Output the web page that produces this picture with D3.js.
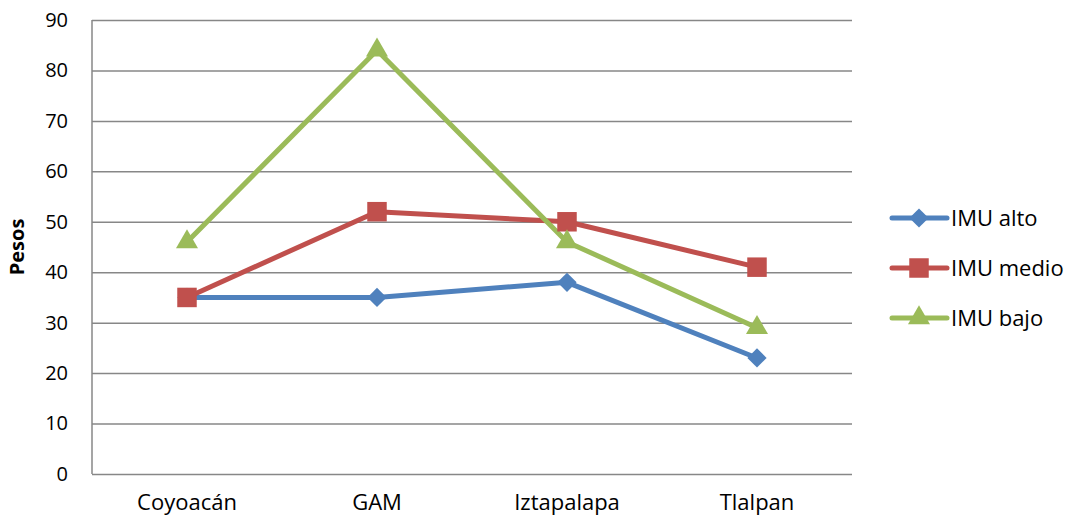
<!DOCTYPE html>
<html>
<head>
<meta charset="utf-8">
<script src="https://cdn.jsdelivr.net/npm/d3@7"></script>
<style>
  body { margin: 0; background: #fff; }
  text { font-family: "Open Sans", "Liberation Sans", sans-serif; fill: #000; }
</style>
</head>
<body>
<svg id="chart"></svg>
<script>
// chart data
const categories = ["Coyoacán", "GAM", "Iztapalapa", "Tlalpan"];
const seriesNames = ["IMU alto", "IMU medio", "IMU bajo"];
const imuAlto = [35, 35, 38, 23];
const imuMedio = [35, 52, 50, 41];
const imuBajo = [46, 84, 46, 29];
const yTicks = [0, 10, 20, 30, 40, 50, 60, 70, 80, 90];

const colors = ["#4F81BD", "#C0504D", "#9BBB59"];
// diamond drawn as a square turned 45 degrees, like the original
const shapes = [d3.symbolSquare, d3.symbolSquare, d3.symbolTriangle];
const rotations = [45, 0, 0];
const sizes = [185, 380, 210];

const series = seriesNames.map((name, i) => ({
  name: name,
  values: [imuAlto, imuMedio, imuBajo][i],
  color: colors[i],
  shape: shapes[i],
  rot: rotations[i],
  size: sizes[i]
}));

const width = 1077, height = 522;
const margin = { top: 20, right: 225, bottom: 48, left: 92 };
const innerW = width - margin.left - margin.right;
const innerH = height - margin.top - margin.bottom;

const svg = d3.select("#chart")
    .attr("width", width)
    .attr("height", height);

const chart = svg.append("g")
    .attr("transform", `translate(${margin.left},${margin.top})`);

const xScale = d3.scaleBand()
    .domain(categories)
    .range([0, innerW]);

const yScale = d3.scaleLinear()
    .domain([0, 90])
    .range([innerH, 0]);

// gridlines + y axis
const yAxis = d3.axisLeft(yScale)
    .tickValues(yTicks)
    .tickSize(-innerW)
    .tickPadding(24);

chart.append("g")
    .attr("class", "y-axis")
    .call(yAxis)
    .call(g => g.select(".domain").remove())
    .call(g => g.selectAll(".tick line").attr("stroke", "#878787").attr("stroke-width", 1.5))
    .call(g => g.selectAll(".tick text").attr("font-size", 20));

// left axis line
chart.append("line")
    .attr("x1", 0).attr("x2", 0)
    .attr("y1", 0).attr("y2", innerH)
    .attr("stroke", "#878787")
    .attr("stroke-width", 1.5);

// x axis labels
const xAxis = d3.axisBottom(xScale).tickSize(0).tickPadding(20);
chart.append("g")
    .attr("class", "x-axis")
    .attr("transform", `translate(0,${innerH})`)
    .call(xAxis)
    .call(g => g.select(".domain").remove())
    .call(g => g.selectAll(".tick text").attr("font-size", 22));

// y axis title
svg.append("text")
    .attr("transform", `translate(24,${margin.top + innerH / 2}) rotate(-90)`)
    .attr("text-anchor", "middle")
    .attr("font-size", 20)
    .attr("font-weight", "bold")
    .text("Pesos");

const line = d3.line()
    .x((d, i) => xScale(categories[i]) + xScale.bandwidth() / 2)
    .y(d => yScale(d));

// lines
chart.selectAll(".series-line")
    .data(series)
    .join("path")
    .attr("class", "series-line")
    .attr("fill", "none")
    .attr("stroke", d => d.color)
    .attr("stroke-width", 5)
    .attr("stroke-linejoin", "round")
    .attr("d", d => line(d.values));

// markers
series.forEach(s => {
  chart.selectAll(null)
      .data(s.values)
      .join("path")
      .attr("d", d3.symbol().type(s.shape).size(s.size))
      .attr("fill", s.color)
      .attr("transform", (d, i) =>
        `translate(${xScale(categories[i]) + xScale.bandwidth() / 2},${yScale(d)}) rotate(${s.rot})`);
});

// legend
const legend = svg.append("g")
    .attr("transform", "translate(892,218)");

const items = legend.selectAll("g")
    .data(series)
    .join("g")
    .attr("transform", (d, i) => `translate(0,${i * 50})`);

items.append("line")
    .attr("x1", 0).attr("x2", 55)
    .attr("stroke", d => d.color)
    .attr("stroke-width", 5)
    .attr("stroke-linecap", "round");

items.append("path")
    .attr("d", d => d3.symbol().type(d.shape).size(d.size)())
    .attr("fill", d => d.color)
    .attr("transform", d => `translate(27,0) rotate(${d.rot})`);

items.append("text")
    .attr("x", 59)
    .attr("dy", "0.35em")
    .attr("font-size", 22)
    .text(d => d.name);
</script>
</body>
</html>
